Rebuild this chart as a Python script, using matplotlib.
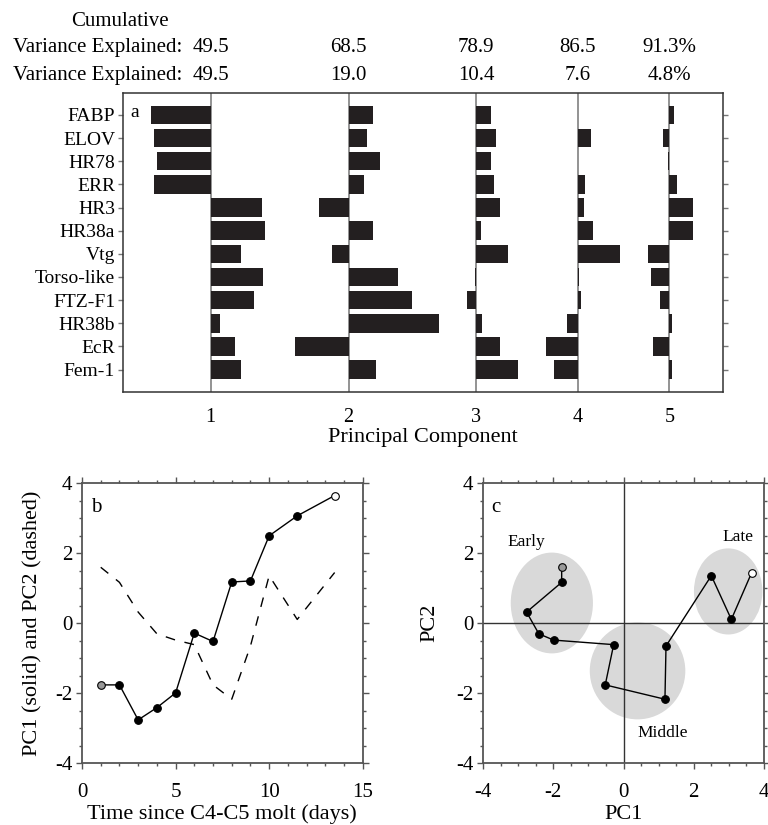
import matplotlib.pyplot as plt
import matplotlib.transforms as mtransforms
from matplotlib.patches import Ellipse
from matplotlib.ticker import MultipleLocator

plt.rcParams['font.family'] = ['Liberation Serif', 'DejaVu Serif']
plt.rcParams['axes.unicode_minus'] = False

# ---- data ----
genes = ['FABP', 'ELOV', 'HR78', 'ERR', 'HR3', 'HR38a', 'Vtg',
         'Torso-like', 'FTZ-F1', 'HR38b', 'EcR', 'Fem-1']
load_pc1 = [-0.40, -0.38, -0.36, -0.38, 0.34, 0.36, 0.20, 0.35, 0.29, 0.06, 0.16, 0.20]
load_pc2 = [0.16, 0.12, 0.21, 0.10, -0.20, 0.16, -0.11, 0.33, 0.42, 0.60, -0.36, 0.18]
load_pc3 = [0.10, 0.13, 0.10, 0.12, 0.16, 0.03, 0.21, -0.01, -0.06, 0.04, 0.16, 0.28]
load_pc4 = [0.003, 0.09, -0.003, 0.05, 0.04, 0.10, 0.28, 0.01, 0.02, -0.07, -0.21, -0.16]
load_pc5 = [0.03, -0.04, -0.01, 0.05, 0.16, 0.16, -0.14, -0.12, -0.06, 0.02, -0.11, 0.02]
pc_names = ['1', '2', '3', '4', '5']

cum_var = [49.5, 68.5, 78.9, 86.5, 91.3]
var_exp = [49.5, 19.0, 10.4, 7.6, 4.8]

days = [1, 2, 3, 4, 5, 6, 7, 8, 9, 10, 11.5, 13.5]
pc1_score = [-1.76, -1.76, -2.76, -2.41, -1.99, -0.28, -0.52, 1.18, 1.21, 2.50, 3.07, 3.65]
pc2_score = [1.60, 1.17, 0.32, -0.30, -0.48, -0.61, -1.76, -2.17, -0.65, 1.36, 0.11, 1.45]

group_names = ['Early', 'Middle', 'Late']
group_center = [(-2.04, 0.58), (0.40, -1.36), (2.98, 0.91)]
group_size = [(2.34, 2.88), (2.72, 2.77), (1.95, 2.46)]
group_label_xy = [(-2.76, 2.21), (1.12, -3.26), (3.26, 2.36)]

# column baselines of panel a (same units as loadings)
col_left = [0, 0.919, 1.770, 2.448, 3.057]

BAR = '#231f20'
SPINE = '#555555'

fig = plt.figure(figsize=(7.68, 8.25), dpi=100)

# ---- panel a ----
ax = fig.add_axes([0.1598, 0.5245, 0.782, 0.3632])
rows = list(range(len(genes)))
for left, load in zip(col_left, [load_pc1, load_pc2, load_pc3, load_pc4, load_pc5]):
    ax.axvline(left, color='#808080', lw=1.2, zorder=1)
    ax.barh(rows, load, left=left, height=0.8, color=BAR, zorder=2)
ax.set_xlim(-0.587, 3.417)
ax.set_ylim(11.98, -0.96)
ax.set_yticks(rows)
ax.set_yticklabels(genes, fontsize=14)
ax.set_xticks(col_left)
ax.set_xticklabels(pc_names, fontsize=14.5)
ax.tick_params(axis='y', direction='out', length=3.5, width=1, color='#777777',
               right=True, pad=2)
ax.tick_params(axis='x', length=0, pad=11)
ax.set_xlabel('Principal Component', fontsize=16, labelpad=1)
for s in ax.spines.values():
    s.set_color('#333333')
    s.set_linewidth(1.1)
ax.text(0.012, 0.92, 'a', transform=ax.transAxes, fontsize=14, va='baseline', ha='left')

# header with explained variance
trans = mtransforms.blended_transform_factory(ax.transData, fig.transFigure)
fig.text(0.156, 0.9685, 'Cumulative', fontsize=15, ha='center', va='baseline')
fig.text(0.237, 0.9373, 'Variance Explained:', fontsize=15, ha='right', va='baseline')
fig.text(0.237, 0.903, 'Variance Explained:', fontsize=15, ha='right', va='baseline')
for i, left in enumerate(col_left):
    suffix = '%' if i == len(col_left) - 1 else ''
    ax.text(left, 0.9373, f'{cum_var[i]:.1f}{suffix}', transform=trans,
            fontsize=15, ha='center', va='baseline')
    ax.text(left, 0.903, f'{var_exp[i]:.1f}{suffix}', transform=trans,
            fontsize=15, ha='center', va='baseline')


def style_axes(a):
    for s in a.spines.values():
        s.set_color(SPINE)
        s.set_linewidth(1.3)
    a.tick_params(which='both', direction='out', top=True, right=True,
                  color=SPINE, width=1, labelsize=15)
    a.tick_params(which='major', length=4)
    a.tick_params(which='minor', length=2.2)
    a.tick_params(axis='x', which='major', pad=10)
    a.tick_params(axis='y', which='major', pad=3)


def draw_points(a, x, y):
    a.plot(x, y, color='black', lw=1, zorder=3)
    a.plot(x[1:-1], y[1:-1], 'o', ms=5.5, mfc='black', mec='black', mew=0.8, zorder=4)
    a.plot(x[:1], y[:1], 'o', ms=5.5, mfc='#999999', mec='black', mew=0.8, zorder=4)
    a.plot(x[-1:], y[-1:], 'o', ms=5.5, mfc='white', mec='black', mew=0.8, zorder=4)


# ---- panel b ----
axb = fig.add_axes([0.1068, 0.0748, 0.3655, 0.3394])
axb.plot(days, pc2_score, color='black', lw=1, dashes=(7, 7), zorder=2)
draw_points(axb, days, pc1_score)
axb.set_xlim(0, 15)
axb.set_ylim(-4, 4)
axb.xaxis.set_major_locator(MultipleLocator(5))
axb.xaxis.set_minor_locator(MultipleLocator(1))
axb.yaxis.set_major_locator(MultipleLocator(2))
axb.yaxis.set_minor_locator(MultipleLocator(0.5))
style_axes(axb)
axb.set_xlabel('Time since C4-C5 molt (days)', fontsize=16, labelpad=2)
axb.set_ylabel('PC1 (solid) and PC2 (dashed)', fontsize=16, labelpad=9)
axb.text(0.05, 0.899, 'b', transform=axb.transAxes, fontsize=15, ha='center', va='baseline')

# ---- panel c ----
axc = fig.add_axes([0.6289, 0.0748, 0.3659, 0.3394])
for (cx, cy), (w, h) in zip(group_center, group_size):
    axc.add_patch(Ellipse((cx, cy), w, h, facecolor='#d9d9d9', edgecolor='none', zorder=1))
for name, (tx, ty) in zip(group_names, group_label_xy):
    axc.text(tx, ty, name, fontsize=12.5, ha='center', va='baseline')
axc.axhline(0, color='#333333', lw=1, zorder=2)
axc.axvline(0, color='#333333', lw=1, zorder=2)
draw_points(axc, pc1_score, pc2_score)
axc.set_xlim(-4, 4)
axc.set_ylim(-4, 4)
axc.xaxis.set_major_locator(MultipleLocator(2))
axc.xaxis.set_minor_locator(MultipleLocator(0.5))
axc.yaxis.set_major_locator(MultipleLocator(2))
axc.yaxis.set_minor_locator(MultipleLocator(0.5))
style_axes(axc)
axc.set_xlabel('PC1', fontsize=16, labelpad=2)
axc.set_ylabel('PC2', fontsize=16, labelpad=12)
axc.text(0.047, 0.899, 'c', transform=axc.transAxes, fontsize=15, ha='center', va='baseline')

fig.savefig('out.png', dpi=100)
